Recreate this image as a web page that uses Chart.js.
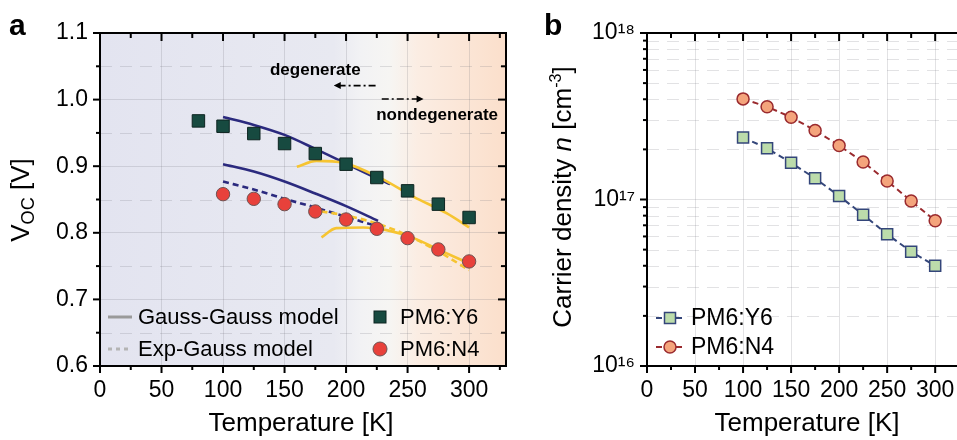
<!DOCTYPE html>
<html>
<head>
<meta charset="utf-8">
<script src="https://cdn.jsdelivr.net/npm/chart.js@4.4.0/dist/chart.umd.min.js"></script>
<style>
  body { margin: 0; width: 957px; height: 440px; overflow: hidden; background: #fff; position: relative;
         font-family: "Liberation Sans", Arial, sans-serif; color: #000; }
  #boxA { position: absolute; left: 0; top: 0; }
  #boxB { position: absolute; left: 520px; top: 0; }
  .lbl { position: absolute; white-space: nowrap; line-height: 1; }
  .letter { font-weight: bold; font-size: 30px; top: 10px; }
  .title { font-size: 26px; transform: translate(-50%, -50%); }
  .ytitle { font-size: 26px; transform: translate(-50%, -50%) rotate(-90deg); }
  sub { font-size: 0.7em; vertical-align: -0.25em; }
  sup { font-size: 0.62em; vertical-align: 0.6em; }
</style>
</head>
<body>
<canvas id="boxA" width="520" height="440"></canvas>
<canvas id="boxB" width="458" height="440"></canvas>

<div class="lbl letter" style="left:9px;">a</div>
<div class="lbl letter" style="left:544px;">b</div>
<div class="lbl ytitle" style="left:22px; top:200px;">V<sub>OC</sub> [V]</div>
<div class="lbl title" style="left:301px; top:422px;">Temperature [K]</div>
<div class="lbl ytitle" style="left:561px; top:197px;">Carrier density <i>n</i> [cm<sup>-3</sup>]</div>
<div class="lbl title" style="left:807px; top:422px;">Temperature [K]</div>

<script>
document.addEventListener('DOMContentLoaded', function() {

    // ---- panel a : Voc vs temperature
    var tempY6 = [80, 100, 125, 150, 175, 200, 225, 250, 275, 300];
    var vocY6 = [0.968, 0.960, 0.949, 0.934, 0.919, 0.903, 0.883, 0.863, 0.843, 0.823];
    var tempN4 = [100, 125, 150, 175, 200, 225, 250, 275, 300];
    var vocN4 = [0.858, 0.851, 0.843, 0.832, 0.820, 0.806, 0.792, 0.775, 0.757];

    // degenerate model curves (navy)
    var ggY6Temp = [100, 125, 150, 175, 200, 225, 236];
    var ggY6Voc = [0.974, 0.962, 0.947, 0.926, 0.904, 0.882, 0.873];
    var ggN4Temp = [100, 125, 150, 175, 200, 226];
    var ggN4Voc = [0.903, 0.892, 0.877, 0.859, 0.840, 0.818];
    var egN4Temp = [100, 125, 150, 175, 200, 225];
    var egN4Voc = [0.877, 0.865, 0.851, 0.838, 0.824, 0.810];

    // nondegenerate model curves (yellow)
    var ndY6Temp = [160, 176, 198, 228, 255, 282, 300];
    var ndY6Voc = [0.899, 0.908, 0.905, 0.882, 0.854, 0.829, 0.808];
    var ndN4Temp = [180, 192, 214, 233, 255, 276, 300];
    var ndN4Voc = [0.793, 0.807, 0.808, 0.804, 0.792, 0.774, 0.754];
    var ndEgN4Temp = [180, 200, 225, 250, 275, 300];
    var ndEgN4Voc = [0.832, 0.826, 0.814, 0.796, 0.772, 0.744];

    // ---- panel b : carrier density
    var tempB = [100, 125, 150, 175, 200, 225, 250, 275, 300];
    var nY6 = [2.36e17, 2.03e17, 1.66e17, 1.34e17, 1.05e17, 8.1e16, 6.18e16, 4.86e16, 4.0e16];
    var nN4 = [4.02e17, 3.61e17, 3.12e17, 2.60e17, 2.11e17, 1.68e17, 1.29e17, 9.8e16, 7.46e16];

    // ticks
    var xTicks = [0, 50, 100, 150, 200, 250, 300];
    var vocTicks = [0.6, 0.7, 0.8, 0.9, 1.0, 1.1];
    var nTicks = [1e16, 1e17, 1e18];

    // text
    var legendA = ['Gauss-Gauss model', 'Exp-Gauss model', 'PM6:Y6', 'PM6:N4'];
    var legendB = ['PM6:Y6', 'PM6:N4'];
    var regionLabels = ['degenerate', 'nondegenerate'];

    var FONT = '"Liberation Sans", Arial, sans-serif';
    var NAVY = '#2b2a7e';
    var YELLOW = '#f6c431';
    var GRID = 'rgba(110,110,120,0.2)';

    Chart.defaults.font.family = FONT;
    Chart.defaults.color = '#000';

    function pts(xs, ys) {
        return xs.map(function(x, i) { return { x: x, y: ys[i] }; });
    }

    function setTicks(list) {
        return function(scale) {
            scale.ticks = list.map(function(v) { return { value: v }; });
        };
    }

    var supDigits = { '0': '\u2070', '1': '\u00b9', '2': '\u00b2', '3': '\u00b3', '4': '\u2074',
                      '5': '\u2075', '6': '\u2076', '7': '\u2077', '8': '\u2078', '9': '\u2079' };
    function powLabel(v) {
        var e = String(Math.round(Math.log10(v)));
        return '10' + e.split('').map(function(c) { return supDigits[c]; }).join('');
    }

    function line(ctx, x1, y1, x2, y2) {
        ctx.beginPath();
        ctx.moveTo(x1, y1);
        ctx.lineTo(x2, y2);
        ctx.stroke();
    }

    // frame + ticks, shared by both panels
    function drawFrame(chart, xMinor, yMinor, yMajorTest, showRight) {
        var ctx = chart.ctx, a = chart.chartArea, xs = chart.scales.x, ys = chart.scales.y;
        ctx.save();
        ctx.strokeStyle = '#000';
        ctx.lineWidth = 2;
        ctx.setLineDash([]);
        ctx.beginPath();
        ctx.moveTo(a.left, a.top);
        ctx.lineTo(a.left, a.bottom);
        ctx.lineTo(a.right, a.bottom);
        if (showRight) ctx.lineTo(a.right, a.top);
        ctx.moveTo(a.right + 1, a.top);
        ctx.lineTo(a.left - 1, a.top);
        ctx.stroke();
        ctx.lineWidth = 2;
        xMinor.forEach(function(v) {
            var px = xs.getPixelForValue(v);
            var major = v % 50 === 0;
            line(ctx, px, a.top, px, a.top + (major ? 8 : 5));
            line(ctx, px, a.bottom, px, a.bottom + (major ? 7 : 4));
        });
        yMinor.forEach(function(v) {
            var py = ys.getPixelForValue(v);
            var major = yMajorTest(v);
            line(ctx, a.left, py, a.left - (major ? 7 : 4), py);
            if (showRight) line(ctx, a.right, py, a.right - (major ? 8 : 5), py);
        });
        ctx.restore();
    }

    function minorGrid(chart, vals) {
        var ctx = chart.ctx, a = chart.chartArea, ys = chart.scales.y;
        ctx.save();
        ctx.strokeStyle = GRID;
        ctx.lineWidth = 1;
        ctx.setLineDash([12, 8]);
        vals.forEach(function(v) {
            var py = Math.round(ys.getPixelForValue(v)) + 0.5;
            line(ctx, a.left, py, a.right, py);
        });
        ctx.restore();
    }

    var every25 = [];
    for (var t = 0; t <= 325; t += 25) every25.push(t);

    // ---------------- panel a ----------------
    var vocMinor = [0.65, 0.75, 0.85, 0.95, 1.05];
    var vocAll = [0.6, 0.65, 0.7, 0.75, 0.8, 0.85, 0.9, 0.95, 1.0, 1.05, 1.1];
    var bgStops = [[0, '#e3e4f0'], [190, '#e8e9f1'], [212, '#f2f2f4'], [235, '#f6f5f3'],
                   [258, '#fbede3'], [330, '#fbdfcb']];

    var pluginA = {
        id: 'pluginA',
        beforeDraw: function(chart) {
            var ctx = chart.ctx, a = chart.chartArea, xs = chart.scales.x;
            var g = ctx.createLinearGradient(a.left, 0, a.right, 0);
            bgStops.forEach(function(s) {
                g.addColorStop((xs.getPixelForValue(s[0]) - a.left) / (a.right - a.left), s[1]);
            });
            ctx.save();
            ctx.fillStyle = g;
            ctx.fillRect(a.left, a.top, a.right - a.left, a.bottom - a.top);
            ctx.restore();
        },
        beforeDatasetsDraw: function(chart) {
            minorGrid(chart, vocMinor);
        },
        afterDraw: function(chart) {
            var ctx = chart.ctx, xs = chart.scales.x, ys = chart.scales.y;
            drawFrame(chart, every25, vocAll, function(v) { return Math.abs(v * 10 - Math.round(v * 10)) < 1e-6; }, true);

            // region annotations
            ctx.save();
            ctx.font = 'bold 17px ' + FONT;
            ctx.textAlign = 'center';
            ctx.textBaseline = 'middle';
            ctx.fillText(regionLabels[0], xs.getPixelForValue(175), ys.getPixelForValue(1.044));
            ctx.fillText(regionLabels[1], xs.getPixelForValue(274), ys.getPixelForValue(0.977));
            ctx.lineWidth = 1.6;
            ctx.setLineDash([7, 3, 2, 3]);
            var ay1 = ys.getPixelForValue(1.021), ay2 = ys.getPixelForValue(1.001);
            var l1 = xs.getPixelForValue(190), r1 = xs.getPixelForValue(224);
            var l2 = xs.getPixelForValue(229), r2 = xs.getPixelForValue(263);
            line(ctx, r1, ay1, l1 + 5, ay1);
            line(ctx, l2, ay2, r2 - 5, ay2);
            ctx.setLineDash([]);
            ctx.beginPath();
            ctx.moveTo(l1, ay1); ctx.lineTo(l1 + 7, ay1 - 3.5); ctx.lineTo(l1 + 7, ay1 + 3.5); ctx.closePath();
            ctx.moveTo(r2, ay2); ctx.lineTo(r2 - 7, ay2 - 3.5); ctx.lineTo(r2 - 7, ay2 + 3.5); ctx.closePath();
            ctx.fill();

            // legend
            ctx.font = '22px ' + FONT;
            ctx.textAlign = 'left';
            ctx.lineWidth = 3;
            ctx.strokeStyle = '#9a9a9a';
            line(ctx, 108, 317, 132, 317);
            ctx.strokeStyle = '#b4b4b4';
            ctx.setLineDash([4, 4]);
            line(ctx, 108, 349, 132, 349);
            ctx.setLineDash([]);
            ctx.fillStyle = '#000';
            ctx.fillText(legendA[0], 138, 318);
            ctx.fillText(legendA[1], 138, 350);
            ctx.fillStyle = '#174a40';
            ctx.strokeStyle = '#0d2420';
            ctx.lineWidth = 1;
            ctx.fillRect(374, 311, 12, 12);
            ctx.strokeRect(374, 311, 12, 12);
            ctx.beginPath();
            ctx.arc(380, 349, 7, 0, Math.PI * 2);
            ctx.fillStyle = '#e8413b';
            ctx.fill();
            ctx.strokeStyle = '#6e5252';
            ctx.stroke();
            ctx.fillStyle = '#000';
            ctx.fillText(legendA[2], 400, 318);
            ctx.fillText(legendA[3], 400, 350);
            ctx.restore();
        }
    };

    function curve(data, color, dash) {
        return {
            data: data, borderColor: color, borderWidth: 2.6, borderDash: dash || [],
            pointRadius: 0, showLine: true, fill: false, cubicInterpolationMode: 'monotone'
        };
    }

    new Chart(document.getElementById('boxA'), {
        type: 'scatter',
        data: {
            datasets: [
                { data: pts(tempY6, vocY6), pointStyle: 'rect', pointRadius: 8.8,
                  backgroundColor: '#174a40', borderColor: '#0d2420', borderWidth: 1 },
                { data: pts(tempN4, vocN4), pointStyle: 'circle', pointRadius: 6.7,
                  backgroundColor: '#e8413b', borderColor: '#6e5252', borderWidth: 1 },
                curve(pts(ndY6Temp, ndY6Voc), YELLOW),
                curve(pts(ndN4Temp, ndN4Voc), YELLOW),
                curve(pts(ndEgN4Temp, ndEgN4Voc), YELLOW, [6, 4]),
                curve(pts(ggY6Temp, ggY6Voc), NAVY),
                curve(pts(ggN4Temp, ggN4Voc), NAVY),
                curve(pts(egN4Temp, egN4Voc), NAVY, [6, 4])
            ]
        },
        options: {
            responsive: false,
            animation: false,
            layout: { padding: { top: 33, right: 14, left: 0, bottom: 0 } },
            plugins: { legend: { display: false }, tooltip: { enabled: false } },
            scales: {
                x: {
                    type: 'linear', min: 0, max: 330,
                    afterBuildTicks: setTicks(xTicks),
                    afterFit: function(s) { s.height = 74; },
                    grid: { color: GRID, drawTicks: false },
                    border: { display: false },
                    ticks: { font: { size: 23 }, padding: 11, maxRotation: 0 }
                },
                y: {
                    type: 'linear', min: 0.6, max: 1.1,
                    afterBuildTicks: setTicks(vocTicks),
                    afterFit: function(s) { s.width = 100; },
                    grid: { color: GRID, drawTicks: false },
                    border: { display: false },
                    ticks: { font: { size: 23 }, padding: 12, callback: function(v) { return v.toFixed(1); } }
                }
            }
        },
        plugins: [pluginA]
    });

    // ---------------- panel b ----------------
    var nMinor = [];
    var nAll = [];
    [1e16, 1e17].forEach(function(d) {
        for (var k = 1; k <= 9; k++) {
            if (k > 1) nMinor.push(k * d);
            nAll.push(k * d);
        }
    });
    nAll.push(1e18);

    var Y6_FILL = '#bcdcab', Y6_EDGE = '#34467a';
    var N4_FILL = '#f4a47c', N4_EDGE = '#9a2a2e';

    var pluginB = {
        id: 'pluginB',
        beforeDatasetsDraw: function(chart) {
            minorGrid(chart, nMinor);
        },
        afterDraw: function(chart) {
            var ctx = chart.ctx;
            drawFrame(chart, every25, nAll, function(v) {
                var e = Math.log10(v); return Math.abs(e - Math.round(e)) < 1e-6;
            }, false);

            // legend
            ctx.save();
            ctx.font = '23px ' + FONT;
            ctx.textBaseline = 'middle';
            ctx.lineWidth = 2;
            ctx.setLineDash([6, 4]);
            ctx.strokeStyle = Y6_EDGE;
            line(ctx, 136, 318, 164, 318);
            ctx.strokeStyle = N4_EDGE;
            line(ctx, 136, 347, 164, 347);
            ctx.setLineDash([]);
            ctx.lineWidth = 1.5;
            ctx.fillStyle = Y6_FILL;
            ctx.strokeStyle = Y6_EDGE;
            ctx.fillRect(144.5, 312.5, 11, 11);
            ctx.strokeRect(144.5, 312.5, 11, 11);
            ctx.beginPath();
            ctx.arc(150, 347, 6, 0, Math.PI * 2);
            ctx.fillStyle = N4_FILL;
            ctx.fill();
            ctx.strokeStyle = N4_EDGE;
            ctx.stroke();
            ctx.fillStyle = '#000';
            ctx.fillText(legendB[0], 171, 319);
            ctx.fillText(legendB[1], 171, 348);
            ctx.restore();
        }
    };

    new Chart(document.getElementById('boxB'), {
        type: 'line',
        data: {
            datasets: [
                { data: pts(tempB, nN4), pointStyle: 'circle', pointRadius: 6,
                  backgroundColor: N4_FILL, borderColor: N4_EDGE, pointBorderWidth: 1.5,
                  borderWidth: 2, borderDash: [6, 4], fill: false, tension: 0 },
                { data: pts(tempB, nY6), pointStyle: 'rect', pointRadius: 7.8,
                  backgroundColor: Y6_FILL, borderColor: Y6_EDGE, pointBorderWidth: 1.5,
                  borderWidth: 2, borderDash: [6, 4], fill: false, tension: 0 }
            ]
        },
        options: {
            responsive: false,
            animation: false,
            layout: { padding: { top: 33, right: 14, left: 0, bottom: 0 } },
            plugins: { legend: { display: false }, tooltip: { enabled: false } },
            scales: {
                x: {
                    type: 'linear', min: 0, max: 330,
                    afterBuildTicks: setTicks(xTicks),
                    afterFit: function(s) { s.height = 74; },
                    grid: { color: GRID, drawTicks: false },
                    border: { display: false },
                    ticks: { font: { size: 23 }, padding: 11, maxRotation: 0 }
                },
                y: {
                    type: 'logarithmic', min: 1e16, max: 1e18,
                    afterBuildTicks: setTicks(nTicks),
                    afterFit: function(s) { s.width = 127; },
                    grid: { color: GRID, drawTicks: false },
                    border: { display: false },
                    ticks: { font: { size: 23 }, padding: 12, callback: function(v) { return powLabel(v); } }
                }
            }
        },
        plugins: [pluginB]
    });
});
</script>
</body>
</html>
